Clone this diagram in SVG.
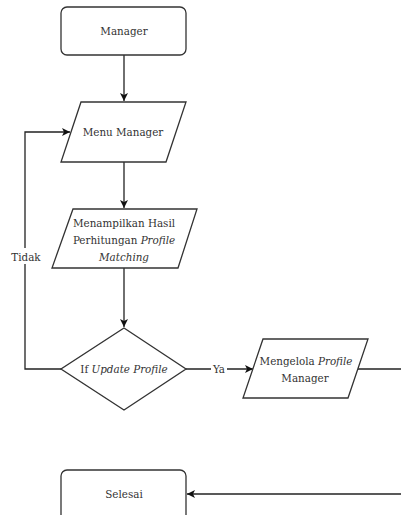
<svg xmlns="http://www.w3.org/2000/svg" width="401" height="515" viewBox="0 0 401 515">
<style>
.shape{fill:#fff;stroke:#333;stroke-width:1.3}
.conn{fill:none;stroke:#222;stroke-width:1.3}
text{font-family:'DejaVu Serif Condensed','DejaVu Serif',serif;font-stretch:condensed;font-size:11.5px;fill:#333;text-anchor:middle}
.it{font-style:italic}
</style>
<defs>
<marker id="arr" markerWidth="10" markerHeight="10" refX="9" refY="5" orient="auto" markerUnits="userSpaceOnUse">
<path d="M1,1 L9,5 L1,9 L3,5 Z" fill="#111"/>
</marker>
</defs>
<rect width="401" height="515" fill="#fff"/>
<g id="connectors">
<path class="conn" d="M124,55 V101" marker-end="url(#arr)"/>
<path class="conn" d="M124,162 V208" marker-end="url(#arr)"/>
<path class="conn" d="M124,268 V327" marker-end="url(#arr)"/>
<path class="conn" d="M61,369 H25 V132 H70" marker-end="url(#arr)"/>
<path class="conn" d="M186,369 H253" marker-end="url(#arr)"/>
<path class="conn" d="M358,369 H401"/>
<path class="conn" d="M401,494 H187" marker-end="url(#arr)"/>
<rect x="11" y="248" width="30" height="16" fill="#fff"/>
<text x="26" y="261">Tidak</text>
<rect x="211" y="361" width="16" height="15" fill="#fff"/>
<text x="219" y="373">Ya</text>
</g>
<g id="manager">
<rect class="shape" x="61" y="7" width="125" height="48" rx="6"/>
<text x="124" y="35">Manager</text>
</g>
<g id="menu-manager">
<polygon class="shape" points="81,102 186,102 166,162 61,162"/>
<text x="123" y="136">Menu Manager</text>
</g>
<g id="menampilkan">
<polygon class="shape" points="73,209 197,209 178,268 52,268"/>
<text x="124" y="227">Menampilkan Hasil</text>
<text x="124" y="244">Perhitungan <tspan class="it">Profile</tspan></text>
<text x="124" y="261" class="it">Matching</text>
</g>
<g id="if-update">
<polygon class="shape" points="124,328 186,369 124,410 61,369"/>
<text x="124" y="373">If <tspan class="it">Update Profile</tspan></text>
</g>
<g id="mengelola">
<polygon class="shape" points="263,339 368,339 348,398 243,398"/>
<text x="306" y="365">Mengelola <tspan class="it">Profile</tspan></text>
<text x="305" y="382">Manager</text>
</g>
<g id="selesai">
<rect class="shape" x="61" y="470" width="125" height="52" rx="6"/>
<text x="124" y="498">Selesai</text>
</g>
</svg>
